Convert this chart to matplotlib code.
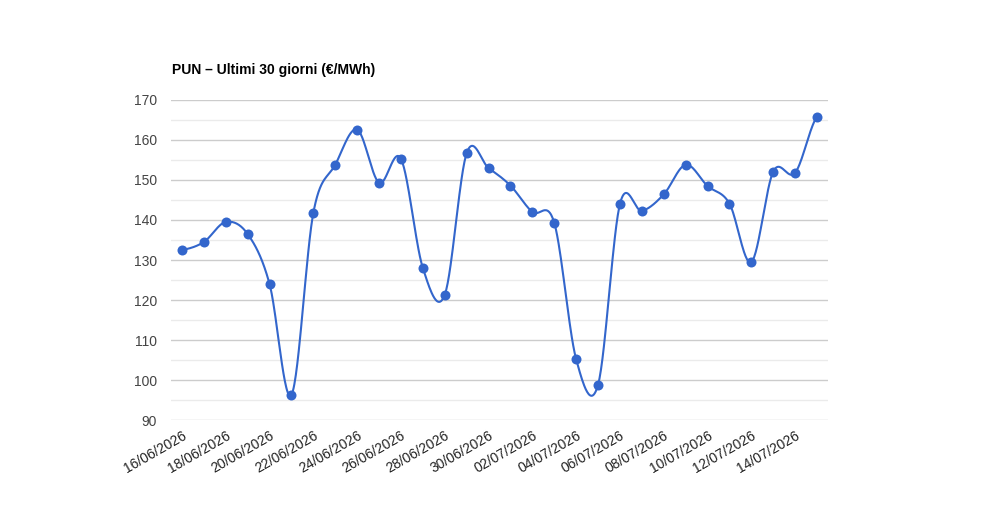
import numpy as np
import pandas as pd
import matplotlib
matplotlib.use("Agg")
import matplotlib.pyplot as plt
from matplotlib.ticker import MultipleLocator

plt.rcParams['font.family'] = ['Liberation Sans', 'DejaVu Sans']

# data
dates = pd.date_range("2026-06-16", periods=30, freq="D").strftime("%d/%m/%Y").tolist()
pun = [132.5, 134.5, 139.5, 136.5, 124.0, 96.3, 141.8, 153.8, 162.6, 149.3,
       155.3, 128.0, 121.3, 156.7, 153.0, 148.6, 142.0, 139.3, 105.2, 98.8,
       144.0, 142.3, 146.4, 153.8, 148.5, 144.1, 129.5, 152.1, 151.8, 165.8]
title = "PUN \u2013 Ultimi 30 giorni (\u20ac/MWh)"

# catmull-rom smoothing of the line, like the reference
def smooth(y, n=30):
    y = np.asarray(y, dtype=float)
    p = np.concatenate([[y[0]], y, [y[-1]]])
    xs, ys = [], []
    t = np.linspace(0, 1, n, endpoint=False)
    for i in range(len(y) - 1):
        p0, p1, p2, p3 = p[i], p[i+1], p[i+2], p[i+3]
        m1 = (p2 - p0) / 2
        m2 = (p3 - p1) / 2
        h00 = 2*t**3 - 3*t**2 + 1
        h10 = t**3 - 2*t**2 + t
        h01 = -2*t**3 + 3*t**2
        h11 = t**3 - t**2
        xs.append(i + t)
        ys.append(h00*p1 + h10*m1 + h01*p2 + h11*m2)
    xs.append([len(y) - 1])
    ys.append([y[-1]])
    return np.concatenate(xs), np.concatenate(ys)

x = np.arange(len(pun))
sx, sy = smooth(pun)

fig = plt.figure(figsize=(10, 5.2), dpi=100)
ax = fig.add_axes([0.171, 0.1923, 0.657, 0.6154])

blue = "#3366cc"
ax.plot(sx, sy, color=blue, linewidth=1.5, zorder=3)
ax.plot(x, pun, "o", color=blue, markersize=7.2, markeredgewidth=0, zorder=4)

ax.set_xlim(-0.5, len(pun) - 0.5)
ax.set_ylim(90, 170)
ax.yaxis.set_major_locator(MultipleLocator(10))
ax.yaxis.set_minor_locator(MultipleLocator(5))
ax.grid(axis="y", which="major", color="#cccccc", linewidth=1)
ax.grid(axis="y", which="minor", color="#ebebeb", linewidth=1)
ax.set_axisbelow(True)

ax.set_xticks(x[::2])
ax.set_xticklabels(dates[::2], rotation=30, ha="right", rotation_mode="anchor",
                   fontsize=10, color="#222222")
for lab in ax.get_yticklabels():
    lab.set_fontsize(10)
    lab.set_color("#444444")
ax.tick_params(axis="both", which="both", length=0)
ax.tick_params(axis="y", pad=10)
ax.tick_params(axis="x", pad=6)

for s in ax.spines.values():
    s.set_visible(False)

fig.text(0.172, 0.865, title, fontsize=10, fontweight="bold", color="#000000",
         ha="left", va="center")

fig.savefig("out.png", dpi=100)
